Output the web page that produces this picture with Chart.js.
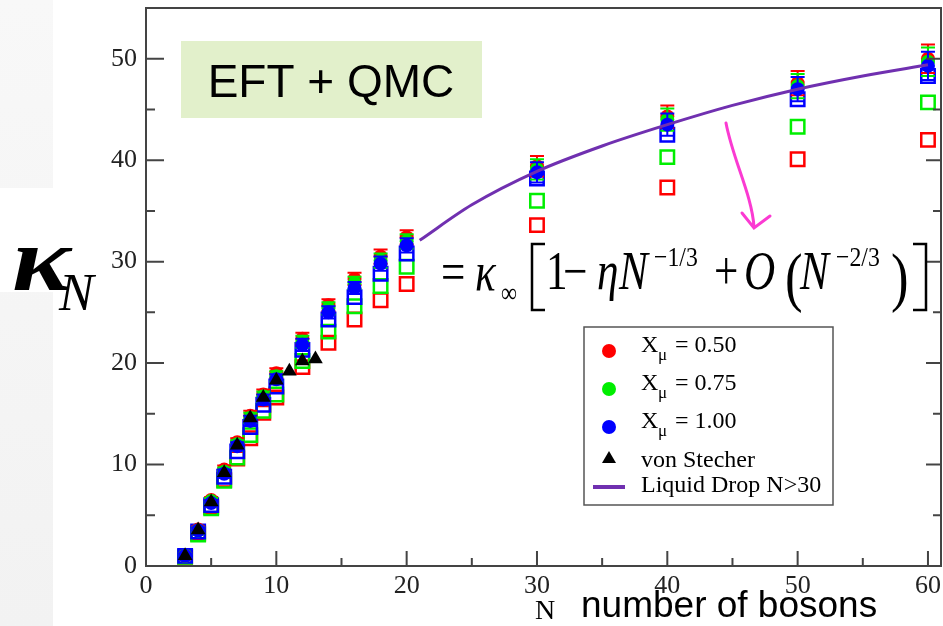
<!DOCTYPE html>
<html>
<head>
<meta charset="utf-8">
<script src="https://cdn.jsdelivr.net/npm/chart.js@4.4.1/dist/chart.umd.min.js"></script>
<style>
  html, body { margin: 0; padding: 0; background: #fff; }
  #wrap { width: 943px; height: 626px; position: relative; }
</style>
</head>
<body>
<div id="wrap"><canvas id="kappa-chart" width="943" height="626"></canvas></div>
<script>
// number of bosons for the EFT + QMC points
const nEft = [3, 4, 5, 6, 7, 8, 9, 10, 12, 14, 16, 18, 20, 30, 40, 50, 60];

// filled circles (with error bars)
const circ050 = [1.0, 3.6, 6.5, 9.5, 12.2, 14.8, 16.9, 19.0, 22.4, 25.7, 28.3, 30.5, 32.4, 39.4, 44.3, 47.6, 50.0];
const circ075 = [1.0, 3.5, 6.4, 9.3, 12.0, 14.6, 16.7, 18.7, 22.1, 25.4, 27.9, 30.1, 32.0, 39.1, 44.0, 47.3, 49.7];
const circ100 = [1.0, 3.5, 6.2, 9.1, 11.8, 14.3, 16.4, 18.4, 21.8, 25.0, 27.4, 29.8, 31.6, 38.8, 43.5, 47.0, 49.3];
const err050 = [0.2, 0.3, 0.3, 0.4, 0.4, 0.5, 0.5, 0.5, 0.6, 0.6, 0.6, 0.7, 0.7, 1.0, 1.1, 1.2, 1.4];
const err075 = [0.2, 0.3, 0.3, 0.4, 0.4, 0.5, 0.5, 0.5, 0.6, 0.6, 0.6, 0.7, 0.7, 1.0, 1.1, 1.2, 1.4];
const err100 = [0.2, 0.3, 0.3, 0.4, 0.4, 0.5, 0.5, 0.5, 0.6, 0.6, 0.6, 0.7, 0.7, 1.0, 1.1, 1.2, 1.4];

// open squares
const sq050 = [0.9, 3.2, 5.8, 8.5, 10.6, 12.6, 15.1, 16.6, 19.6, 22.0, 24.3, 26.2, 27.8, 33.6, 37.3, 40.1, 42.0];
const sq075 = [0.9, 3.1, 5.7, 8.4, 10.7, 12.9, 15.3, 16.9, 20.2, 23.1, 25.6, 27.6, 29.5, 36.0, 40.3, 43.3, 45.7];
const sq100 = [1.0, 3.4, 6.0, 8.8, 11.3, 13.7, 15.9, 17.7, 21.3, 24.3, 26.5, 28.8, 30.8, 38.2, 42.5, 46.0, 48.3];

// von Stecher
const nStecher = [3, 4, 5, 6, 7, 8, 9, 10, 11, 12, 13];
const kStecher = [1.0, 3.55, 6.3, 9.2, 11.9, 14.6, 16.6, 18.3, 19.2, 20.2, 20.4];

// liquid drop curve
const nDrop = [21, 25, 30, 35, 40, 45, 50, 55, 60];
const kDrop = [32.1, 35.6, 38.9, 41.4, 43.5, 45.4, 47.0, 48.3, 49.4];

// axis ticks
const xTickValues = [0, 10, 20, 30, 40, 50, 60];
const xMinorTicks = [5, 15, 25, 35, 45, 55];
const yTickValues = [0, 10, 20, 30, 40, 50];
const yMinorTicks = [5, 15, 25, 35, 45];

const RED = '#ff0000', GREEN = '#00ee00', BLUE = '#0000ff', PURPLE = '#7030b0';
const SERIF = '"Liberation Serif", "Times New Roman", serif';
const SANS = '"Liberation Sans", Arial, sans-serif';

const pts = (xs, ys) => xs.map((x, i) => ({ x: x, y: ys[i] }));

function squareSet(label, ys, color, order) {
    return {
        label: label, data: pts(nEft, ys), order: order, inLegend: false,
        pointStyle: 'rect', pointRadius: 9.5, borderWidth: 2.5,
        borderColor: color, backgroundColor: 'rgba(0,0,0,0)', showLine: false
    };
}
function circleSet(label, ys, errs, color, order) {
    return {
        label: label, data: pts(nEft, ys), errors: errs, order: order, inLegend: true,
        pointStyle: 'circle', pointRadius: 7, borderWidth: 0,
        borderColor: color, backgroundColor: color, showLine: false
    };
}

// error bars, drawn right after their own dataset
const errorBars = {
    id: 'errorBars',
    afterDatasetDraw(chart, args) {
        const ds = chart.data.datasets[args.index];
        if (!ds.errors) return;
        const ctx = chart.ctx, xs = chart.scales.x, ys = chart.scales.y;
        ctx.save();
        ctx.strokeStyle = ds.borderColor;
        ctx.lineWidth = 2;
        ds.data.forEach((p, i) => {
            const e = ds.errors[i];
            const px = xs.getPixelForValue(p.x);
            const top = ys.getPixelForValue(p.y + e), bot = ys.getPixelForValue(p.y - e);
            ctx.beginPath();
            ctx.moveTo(px, top); ctx.lineTo(px, bot);
            ctx.moveTo(px - 7, top); ctx.lineTo(px + 7, top);
            ctx.moveTo(px - 7, bot); ctx.lineTo(px + 7, bot);
            ctx.stroke();
        });
        ctx.restore();
    }
};

// page background, frame, inward ticks
const frame = {
    id: 'frame',
    beforeDraw(chart) {
        const ctx = chart.ctx;
        ctx.save();
        ctx.fillStyle = '#fff';
        ctx.fillRect(0, 0, chart.width, chart.height);
        const g = ctx.createLinearGradient(0, 0, 0, 626);
        g.addColorStop(0, '#f8f8f8');
        g.addColorStop(1, '#f2f2f2');
        ctx.fillStyle = g;
        ctx.fillRect(0, 0, 53, 626);
        ctx.fillStyle = '#fff';
        ctx.fillRect(0, 188, 106, 104);
        ctx.restore();
    },
    afterDraw(chart) {
        const ctx = chart.ctx, a = chart.chartArea, xs = chart.scales.x, ys = chart.scales.y;
        ctx.save();
        ctx.strokeStyle = '#444';
        ctx.lineWidth = 2;
        ctx.strokeRect(a.left, a.top, a.right - a.left, a.bottom - a.top);
        ctx.beginPath();
        xTickValues.forEach(v => { const px = xs.getPixelForValue(v); ctx.moveTo(px, a.bottom); ctx.lineTo(px, a.bottom - 15); });
        xMinorTicks.forEach(v => { const px = xs.getPixelForValue(v); ctx.moveTo(px, a.bottom); ctx.lineTo(px, a.bottom - 8); });
        yTickValues.forEach(v => {
            const py = ys.getPixelForValue(v);
            ctx.moveTo(a.left, py); ctx.lineTo(a.left + 18, py);
            ctx.moveTo(a.right, py); ctx.lineTo(a.right - 15, py);
        });
        yMinorTicks.forEach(v => {
            const py = ys.getPixelForValue(v);
            ctx.moveTo(a.left, py); ctx.lineTo(a.left + 9, py);
            ctx.moveTo(a.right, py); ctx.lineTo(a.right - 8, py);
        });
        ctx.stroke();
        ctx.restore();
    }
};

// legend, labels, formula and annotations
const extras = {
    id: 'extras',
    afterDraw(chart) {
        const ctx = chart.ctx;
        ctx.save();
        ctx.textBaseline = 'alphabetic';

        // horizontally squeezed text helper
        const fs = (txt, x, y, font, sx) => {
            ctx.save();
            ctx.translate(x, y);
            ctx.scale(sx, 1);
            ctx.font = font;
            ctx.textAlign = 'left';
            ctx.fillText(txt, 0, 0);
            ctx.restore();
        };

        // EFT + QMC box
        ctx.fillStyle = '#e2f0cb';
        ctx.fillRect(181, 41, 301, 77);
        ctx.fillStyle = '#000';
        ctx.font = '46px ' + SANS;
        ctx.textAlign = 'center';
        ctx.fillText('EFT + QMC', 331, 97);

        // y title: kappa_N
        fs('\u03ba', 12, 290, 'italic bold 92px ' + SERIF, 1.2);
        fs('N', 59, 310, 'italic 52px ' + SERIF, 1.0);

        // x title
        fs('N', 535, 619, '28px ' + SERIF, 1);
        fs('number of bosons', 581, 617, '37px ' + SANS, 1);

        // formula
        const big = '54px ' + SERIF, bigI = 'italic 54px ' + SERIF, sup = '28px ' + SERIF;
        fs('=', 441, 290, big, 0.8);
        fs('\u03ba', 475, 290, bigI, 0.8);
        fs('\u221e', 501, 302, '28px ' + SERIF, 0.8);
        fs('1', 546, 289, big, 0.8);
        fs('\u2212', 563, 289, big, 0.8);
        fs('\u03b7', 597, 289, bigI, 0.8);
        fs('N', 619, 289, bigI, 0.8);
        fs('\u22121/3', 654, 266, sup, 0.85);
        fs('+', 714, 289, big, 0.8);
        fs('O', 744, 289, bigI, 0.8);
        fs('(', 785, 299, '66px ' + SERIF, 0.8);
        fs('N', 800, 289, bigI, 0.8);
        fs('\u22122/3', 836, 266, sup, 0.85);
        fs(')', 891, 299, '66px ' + SERIF, 0.8);
        ctx.strokeStyle = '#000';
        ctx.lineWidth = 2.5;
        ctx.beginPath();
        ctx.moveTo(545, 244); ctx.lineTo(532, 244); ctx.lineTo(532, 310); ctx.lineTo(545, 310);
        ctx.moveTo(913, 244); ctx.lineTo(926, 244); ctx.lineTo(926, 310); ctx.lineTo(913, 310);
        ctx.stroke();

        // pink arrow
        ctx.strokeStyle = '#fb3ad2';
        ctx.lineWidth = 3;
        ctx.lineCap = 'round';
        ctx.beginPath();
        ctx.moveTo(726, 123);
        ctx.bezierCurveTo(733, 160, 752, 195, 754, 227);
        ctx.moveTo(742, 213); ctx.lineTo(754, 228); ctx.lineTo(770, 216);
        ctx.stroke();

        // legend
        ctx.lineCap = 'butt';
        ctx.textAlign = 'left';
        ctx.fillStyle = '#fff';
        ctx.fillRect(584, 327, 249, 178);
        ctx.strokeStyle = '#555';
        ctx.lineWidth = 1.5;
        ctx.strokeRect(584, 327, 249, 178);
        const legendSets = chart.data.datasets.filter(d => d.inLegend);
        const circles = legendSets.filter(d => d.pointStyle === 'circle')
            .sort((a, b) => a.label.localeCompare(b.label));
        circles.forEach((d, i) => {
            const y = 351 + i * 38;
            ctx.fillStyle = d.backgroundColor;
            ctx.beginPath(); ctx.arc(609, y, 7, 0, Math.PI * 2); ctx.fill();
            ctx.fillStyle = '#000';
            ctx.font = '24px ' + SERIF;
            ctx.fillText('X', 641, y + 1);
            ctx.font = '17px ' + SERIF;
            ctx.fillText('\u03bc', 658, y + 9);
            ctx.font = '24px ' + SERIF;
            ctx.fillText('= ' + d.label.split('=')[1].trim(), 675, y + 1);
        });
        const tri = legendSets.find(d => d.pointStyle === 'triangle');
        ctx.fillStyle = '#000';
        ctx.beginPath(); ctx.moveTo(609, 451); ctx.lineTo(616, 463); ctx.lineTo(602, 463); ctx.closePath(); ctx.fill();
        ctx.font = '24px ' + SERIF;
        ctx.fillText(tri.label, 641, 467);
        const drop = legendSets.find(d => d.showLine);
        ctx.strokeStyle = drop.borderColor;
        ctx.lineWidth = 4;
        ctx.beginPath(); ctx.moveTo(593, 487); ctx.lineTo(625, 487); ctx.stroke();
        ctx.fillStyle = '#000';
        ctx.fillText(drop.label, 641, 492);

        ctx.restore();
    }
};

new Chart(document.getElementById('kappa-chart'), {
    type: 'scatter',
    data: {
        datasets: [
            {
                type: 'line', label: 'Liquid Drop N>30', data: pts(nDrop, kDrop), order: 0, inLegend: true,
                showLine: true, borderColor: PURPLE, borderWidth: 3, pointRadius: 0,
                cubicInterpolationMode: 'monotone', fill: false
            },
            {
                label: 'von Stecher', data: pts(nStecher, kStecher), order: 1, inLegend: true,
                pointStyle: 'triangle', pointRadius: 8.5, borderWidth: 0,
                backgroundColor: '#000', borderColor: '#000', showLine: false
            },
            circleSet('X\u03bc = 1.00', circ100, err100, BLUE, 2),
            circleSet('X\u03bc = 0.75', circ075, err075, GREEN, 3),
            circleSet('X\u03bc = 0.50', circ050, err050, RED, 4),
            squareSet('sq 1.00', sq100, BLUE, 5),
            squareSet('sq 0.75', sq075, GREEN, 6),
            squareSet('sq 0.50', sq050, RED, 7)
        ]
    },
    options: {
        responsive: false,
        animation: false,
        layout: { autoPadding: false, padding: { left: 0, right: 2, top: 8, bottom: 0 } },
        plugins: { legend: { display: false }, tooltip: { enabled: false } },
        scales: {
            x: {
                type: 'linear', min: 0, max: 61,
                grid: { display: false, drawTicks: false },
                border: { display: false },
                afterBuildTicks: s => { s.ticks = xTickValues.map(v => ({ value: v })); },
                afterFit: s => { s.height = 60; s.paddingLeft = 0; s.paddingRight = 0; },
                ticks: { padding: 5, color: '#222', font: { family: SERIF, size: 26 }, maxRotation: 0 }
            },
            y: {
                type: 'linear', min: 0, max: 55,
                grid: { display: false, drawTicks: false },
                border: { display: false },
                afterBuildTicks: s => { s.ticks = yTickValues.map(v => ({ value: v })); },
                afterFit: s => { s.width = 146; s.paddingTop = 0; s.paddingBottom = 0; },
                ticks: { padding: 9, color: '#222', font: { family: SERIF, size: 26 } }
            }
        }
    },
    plugins: [frame, errorBars, extras]
});
</script>
</body>
</html>
